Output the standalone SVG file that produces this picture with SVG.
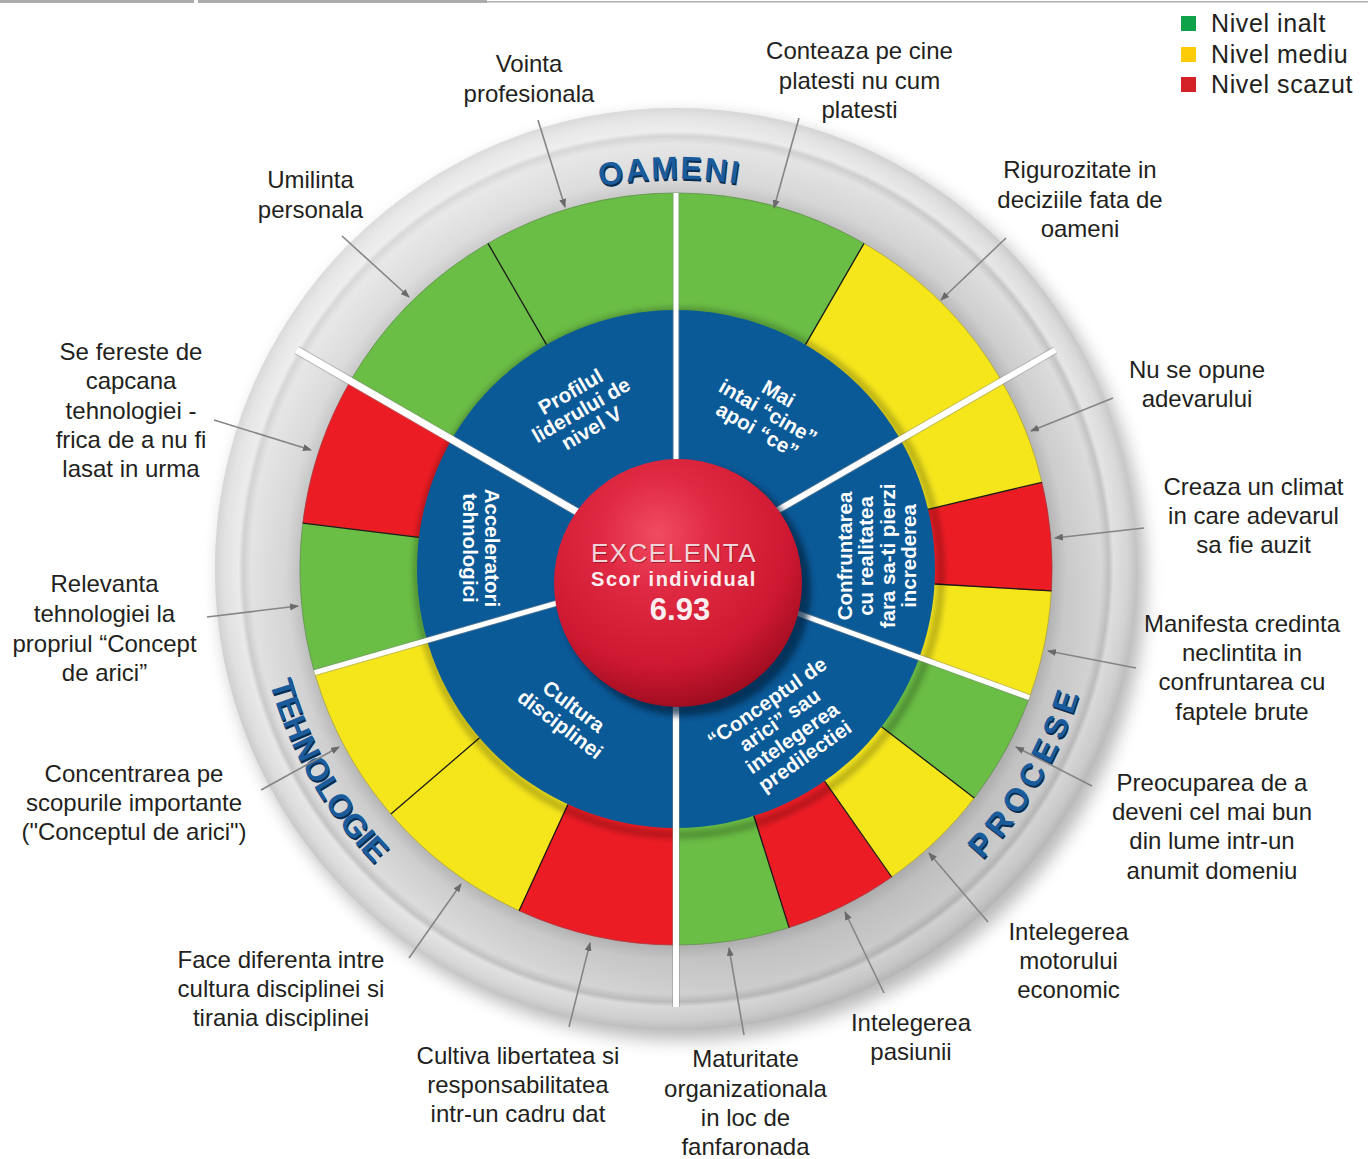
<svg xmlns="http://www.w3.org/2000/svg" width="1368" height="1159" viewBox="0 0 1368 1159">
<defs>
<style>
.lbl{font-family:"Liberation Sans",Arial,sans-serif;font-size:24px;fill:#231f20;text-anchor:middle}
.sec{font-family:"Liberation Sans",Arial,sans-serif;font-size:20.5px;font-weight:bold;fill:#ffffff;text-anchor:middle}
.cat{font-family:"Liberation Sans",Arial,sans-serif;font-size:32px;font-weight:bold;text-anchor:middle}
.leg{font-family:"Liberation Sans",Arial,sans-serif;font-size:25px;letter-spacing:0.6px;fill:#231f20}
.arrow{stroke:#858585;stroke-width:1.6;fill:none;marker-end:url(#ah)}
.div{stroke:#1a1a1a;stroke-width:1.3}
.wl{stroke:#ffffff;stroke-linecap:butt}
.wls{stroke:#8a8a8a;stroke-opacity:.45;stroke-linecap:butt}
.g{fill:#6abd45;stroke:#6abd45;stroke-width:.6}
.y{fill:#f5e61c;stroke:#f5e61c;stroke-width:.6}
.r{fill:#ec1c24;stroke:#ec1c24;stroke-width:.6}
</style>
<marker id="ah" markerUnits="userSpaceOnUse" markerWidth="9" markerHeight="7" refX="8" refY="3.5" orient="auto"><path d="M0,0 L9,3.5 L0,7 Z" fill="#6a6a6a"/></marker>
<filter id="blur8" x="-20%" y="-20%" width="140%" height="140%"><feGaussianBlur stdDeviation="9"/></filter>
<filter id="blur3" x="-20%" y="-20%" width="140%" height="140%"><feGaussianBlur stdDeviation="3"/></filter>
<radialGradient id="band" gradientUnits="userSpaceOnUse" cx="676" cy="569" r="462">
<stop offset="0.80" stop-color="#b0b0b0"/>
<stop offset="0.814" stop-color="#b5b5b5"/>
<stop offset="0.845" stop-color="#cdcdcd"/>
<stop offset="0.92" stop-color="#dcdcdc"/>
<stop offset="0.937" stop-color="#c4c4c4"/>
<stop offset="0.947" stop-color="#e6e6e6"/>
<stop offset="0.978" stop-color="#dadada"/>
<stop offset="1" stop-color="#c6c6c6"/>
</radialGradient>
<linearGradient id="light" x1="0.15" y1="0" x2="0.85" y2="1">
<stop offset="0" stop-color="#ffffff" stop-opacity="0.45"/>
<stop offset="0.5" stop-color="#ffffff" stop-opacity="0"/>
<stop offset="1" stop-color="#000000" stop-opacity="0.16"/>
</linearGradient>
<radialGradient id="sph" cx="0.42" cy="0.3" r="0.75">
<stop offset="0" stop-color="#f04c62"/>
<stop offset="0.3" stop-color="#e02a43"/>
<stop offset="0.72" stop-color="#cc1830"/>
<stop offset="1" stop-color="#950a1c"/>
</radialGradient>
<path id="arcO" d="M 338.25 374 A 390 390 0 0 1 1013.75 374"/>
<path id="arcT" d="M 260.4 495.7 A 422 422 0 0 0 531.7 965.6"/>
<path id="arcP" d="M 820.3 965.6 A 422 422 0 0 0 1091.6 495.7"/>
</defs>

<rect width="1368" height="1159" fill="#ffffff"/>

<g id="top-border">
<rect x="0" y="0" width="194" height="3" fill="#ababab"/>
<rect x="198" y="0" width="289" height="3" fill="#ababab"/>
<rect x="487" y="1" width="881" height="1.5" fill="#b0b0b0"/>
</g>

<g id="frame">
<circle cx="683" cy="578" r="462" fill="#000" opacity="0.28" filter="url(#blur8)"/>
<circle cx="676" cy="569" r="461" fill="url(#band)"/>
<circle cx="676" cy="569" r="461" fill="url(#light)"/>
</g>

<g id="ring">
<path id="seg-vointa" class="g" d="M676 569 L676 193 A376 376 0 0 0 488 243.4 Z"/>
<path id="seg-umilinta" class="g" d="M676 569 L488 243.4 A376 376 0 0 0 350.4 381 Z"/>
<path id="seg-capcana" class="r" d="M676 569 L350.4 381 A376 376 0 0 0 302.8 523.2 Z"/>
<path id="seg-relevanta" class="g" d="M676 569 L302.8 523.2 A376 376 0 0 0 314.6 672.6 Z"/>
<path id="seg-concentrarea" class="y" d="M676 569 L314.6 672.6 A376 376 0 0 0 390.9 814 Z"/>
<path id="seg-diferenta" class="y" d="M676 569 L390.9 814 A376 376 0 0 0 519.1 910.7 Z"/>
<path id="seg-libertatea" class="r" d="M676 569 L519.1 910.7 A376 376 0 0 0 676 945 Z"/>
<path id="seg-maturitate" class="g" d="M676 569 L676 945 A376 376 0 0 0 789.1 927.6 Z"/>
<path id="seg-pasiunii" class="r" d="M676 569 L789.1 927.6 A376 376 0 0 0 891.7 877 Z"/>
<path id="seg-motorului" class="y" d="M676 569 L891.7 877 A376 376 0 0 0 974.3 797.9 Z"/>
<path id="seg-preocuparea" class="g" d="M676 569 L974.3 797.9 A376 376 0 0 0 1029.3 697.6 Z"/>
<path id="seg-manifesta" class="y" d="M676 569 L1029.3 697.6 A376 376 0 0 0 1051.4 590.8 Z"/>
<path id="seg-climat" class="r" d="M676 569 L1051.4 590.8 A376 376 0 0 0 1041.9 482.3 Z"/>
<path id="seg-adevarului" class="y" d="M676 569 L1041.9 482.3 A376 376 0 0 0 1001.6 381 Z"/>
<path id="seg-rigurozitate" class="y" d="M676 569 L1001.6 381 A376 376 0 0 0 864 243.4 Z"/>
<path id="seg-conteaza" class="g" d="M676 569 L864 243.4 A376 376 0 0 0 676 193 Z"/>
<circle cx="676" cy="569" r="376" fill="none" stroke="#555" stroke-opacity="0.35" stroke-width="1"/>
</g>

<g id="dividers">
<line class="div" x1="546.5" y1="344.7" x2="488" y2="243.4"/>
<line class="div" x1="418.9" y1="537.4" x2="302.8" y2="523.2"/>
<line class="div" x1="479.6" y1="737.8" x2="390.9" y2="814"/>
<line class="div" x1="567.9" y1="804.4" x2="519.1" y2="910.7"/>
<line class="div" x1="753.9" y1="816" x2="789.1" y2="927.6"/>
<line class="div" x1="824.6" y1="781.2" x2="891.7" y2="877"/>
<line class="div" x1="881.5" y1="726.7" x2="974.3" y2="797.9"/>
<line class="div" x1="934.6" y1="584" x2="1051.4" y2="590.8"/>
<line class="div" x1="928" y1="509.3" x2="1041.9" y2="482.3"/>
<line class="div" x1="805.5" y1="344.7" x2="864" y2="243.4"/>
</g>

<g id="blue-disk">
<circle cx="679" cy="573" r="262" fill="none" stroke="#000" stroke-opacity="0.3" stroke-width="6" filter="url(#blur3)"/>
<circle cx="676" cy="569" r="259" fill="#0b5a98"/>
</g>

<g id="white-lines">
<line class="wls" x1="676" y1="569" x2="676" y2="193" stroke-width="7"/>
<line class="wls" x1="676" y1="569" x2="296.7" y2="350" stroke-width="9"/>
<line class="wls" x1="676" y1="569" x2="314.6" y2="672.6" stroke-width="7"/>
<line class="wls" x1="676" y1="569" x2="676" y2="1007" stroke-width="8"/>
<line class="wls" x1="676" y1="569" x2="1029.3" y2="697.6" stroke-width="7"/>
<line class="wls" x1="676" y1="569" x2="1055.3" y2="350" stroke-width="8"/>
<line class="wl" x1="676" y1="569" x2="676" y2="193" stroke-width="5"/>
<line class="wl" x1="676" y1="569" x2="296.7" y2="350" stroke-width="7"/>
<line class="wl" x1="676" y1="569" x2="314.6" y2="672.6" stroke-width="5"/>
<line class="wl" x1="676" y1="569" x2="676" y2="1007" stroke-width="6"/>
<line class="wl" x1="676" y1="569" x2="1029.3" y2="697.6" stroke-width="5"/>
<line class="wl" x1="676" y1="569" x2="1055.3" y2="350" stroke-width="6"/>
</g>

<g id="sector-profilul">
<text class="sec" transform="translate(581,410) rotate(-30)"><tspan x="0" y="-14">Profilul</tspan><tspan x="0" y="7">liderului de</tspan><tspan x="0" y="28">nivel V</tspan></text>
</g>
<g id="sector-cine">
<text class="sec" transform="translate(768,412) rotate(30)"><tspan x="0" y="-14">Mai</tspan><tspan x="0" y="7">intai “cine”</tspan><tspan x="0" y="28">apoi “ce”</tspan></text>
</g>
<g id="sector-confruntarea">
<text class="sec" transform="translate(877,556) rotate(-90)"><tspan x="0" y="-25.25">Confruntarea</tspan><tspan x="0" y="-3.75">cu realitatea</tspan><tspan x="0" y="17.75">fara sa-ti pierzi</tspan><tspan x="0" y="39.25">increderea</tspan></text>
</g>
<g id="sector-arici">
<text class="sec" transform="translate(786,729) rotate(-35)"><tspan x="0" y="-26">“Conceptul de</tspan><tspan x="0" y="-4">arici” sau</tspan><tspan x="0" y="18">intelegerea</tspan><tspan x="0" y="40">predilectiei</tspan></text>
</g>
<g id="sector-cultura">
<text class="sec" transform="translate(567,715.5) rotate(37)"><tspan x="0" y="-4.25">Cultura</tspan><tspan x="0" y="18.25">disciplinei</tspan></text>
</g>
<g id="sector-acceleratori">
<text class="sec" transform="translate(481,548) rotate(90)"><tspan x="0" y="-4">Acceleratori</tspan><tspan x="0" y="18">tehnologici</tspan></text>
</g>

<g id="center">
<circle cx="685" cy="590" r="126" fill="#03223f" opacity="0.7" filter="url(#blur3)"/>
<circle cx="678" cy="583" r="124" fill="url(#sph)"/>
<text x="675" y="563" font-family="'Liberation Sans',Arial,sans-serif" font-size="26" letter-spacing="1.5" text-anchor="middle" fill="#7d0c1c" opacity="0.6">EXCELENTA</text>
<text x="674" y="562" font-family="'Liberation Sans',Arial,sans-serif" font-size="26" letter-spacing="1.5" text-anchor="middle" fill="#f1d4d9">EXCELENTA</text>
<text x="674" y="586" font-family="'Liberation Sans',Arial,sans-serif" font-size="20" font-weight="bold" letter-spacing="1.5" text-anchor="middle" fill="#fbeef0">Scor individual</text>
<text x="680" y="620" font-family="'Liberation Sans',Arial,sans-serif" font-size="31" font-weight="bold" text-anchor="middle" fill="#fbeef0">6.93</text>
</g>

<g id="categories">
<g id="cat-oameni">
<text class="cat" fill="#082c50" letter-spacing="2" transform="translate(1,2)"><textPath href="#arcO" startOffset="49.2%">OAMENI</textPath></text>
<text class="cat" fill="#1a5b9b" letter-spacing="2"><textPath href="#arcO" startOffset="49.2%">OAMENI</textPath></text>
</g>
<g id="cat-tehnologie">
<text class="cat" fill="#082c50" transform="translate(1,2)"><textPath href="#arcT" startOffset="50%">TEHNOLOGIE</textPath></text>
<text class="cat" fill="#1a5b9b"><textPath href="#arcT" startOffset="50%">TEHNOLOGIE</textPath></text>
</g>
<g id="cat-procese">
<text class="cat" fill="#082c50" letter-spacing="6" transform="translate(1,2)"><textPath href="#arcP" startOffset="50%">PROCESE</textPath></text>
<text class="cat" fill="#1a5b9b" letter-spacing="6"><textPath href="#arcP" startOffset="50%">PROCESE</textPath></text>
</g>
</g>

<g id="connectors">
<line class="arrow" x1="538" y1="120" x2="565" y2="207"/>
<line class="arrow" x1="799" y1="118" x2="774" y2="208"/>
<line class="arrow" x1="342" y1="236" x2="409" y2="297"/>
<line class="arrow" x1="1006" y1="238" x2="941" y2="300"/>
<line class="arrow" x1="214" y1="420" x2="311" y2="450"/>
<line class="arrow" x1="1113" y1="398" x2="1031" y2="431"/>
<line class="arrow" x1="1144" y1="528" x2="1055" y2="538"/>
<line class="arrow" x1="207" y1="617" x2="298" y2="606"/>
<line class="arrow" x1="1136" y1="668" x2="1048" y2="651"/>
<line class="arrow" x1="1092" y1="786" x2="1016" y2="747"/>
<line class="arrow" x1="988" y1="922" x2="929" y2="853"/>
<line class="arrow" x1="884" y1="993" x2="845" y2="912"/>
<line class="arrow" x1="744" y1="1035" x2="729" y2="948"/>
<line class="arrow" x1="569" y1="1027" x2="590" y2="943"/>
<line class="arrow" x1="409" y1="958" x2="461" y2="884"/>
<line class="arrow" x1="261" y1="790" x2="339" y2="747"/>
</g>

<g id="label-vointa"><text class="lbl"><tspan x="529" y="72">Vointa</tspan><tspan x="529" y="102">profesionala</tspan></text></g>
<g id="label-conteaza"><text class="lbl"><tspan x="859.5" y="59">Conteaza pe cine</tspan><tspan x="859.5" y="89">platesti nu cum</tspan><tspan x="859.5" y="118">platesti</tspan></text></g>
<g id="label-umilinta"><text class="lbl"><tspan x="310.5" y="188">Umilinta</tspan><tspan x="310.5" y="218">personala</tspan></text></g>
<g id="label-rigurozitate"><text class="lbl"><tspan x="1080" y="178">Rigurozitate in</tspan><tspan x="1080" y="208">deciziile fata de</tspan><tspan x="1080" y="237">oameni</tspan></text></g>
<g id="label-capcana"><text class="lbl"><tspan x="131" y="360">Se fereste de</tspan><tspan x="131" y="389">capcana</tspan><tspan x="131" y="419">tehnologiei -</tspan><tspan x="131" y="448">frica de a nu fi</tspan><tspan x="131" y="477">lasat in urma</tspan></text></g>
<g id="label-adevarului"><text class="lbl"><tspan x="1197" y="378">Nu se opune</tspan><tspan x="1197" y="407">adevarului</tspan></text></g>
<g id="label-climat"><text class="lbl"><tspan x="1253.5" y="495">Creaza un climat</tspan><tspan x="1253.5" y="524">in care adevarul</tspan><tspan x="1253.5" y="553">sa fie auzit</tspan></text></g>
<g id="label-relevanta"><text class="lbl"><tspan x="104.5" y="592">Relevanta</tspan><tspan x="104.5" y="622">tehnologiei la</tspan><tspan x="104.5" y="652">propriul “Concept</tspan><tspan x="104.5" y="681">de arici”</tspan></text></g>
<g id="label-manifesta"><text class="lbl"><tspan x="1242" y="632">Manifesta credinta</tspan><tspan x="1242" y="661">neclintita in</tspan><tspan x="1242" y="690">confruntarea cu</tspan><tspan x="1242" y="720">faptele brute</tspan></text></g>
<g id="label-concentrarea"><text class="lbl"><tspan x="134" y="782">Concentrarea pe</tspan><tspan x="134" y="811">scopurile importante</tspan><tspan x="134" y="840">("Conceptul de arici")</tspan></text></g>
<g id="label-preocuparea"><text class="lbl"><tspan x="1212" y="791">Preocuparea de a</tspan><tspan x="1212" y="820">deveni cel mai bun</tspan><tspan x="1212" y="849">din lume intr-un</tspan><tspan x="1212" y="879">anumit domeniu</tspan></text></g>
<g id="label-motorului"><text class="lbl"><tspan x="1068.5" y="940">Intelegerea</tspan><tspan x="1068.5" y="969">motorului</tspan><tspan x="1068.5" y="998">economic</tspan></text></g>
<g id="label-diferenta"><text class="lbl"><tspan x="281" y="968">Face diferenta intre</tspan><tspan x="281" y="997">cultura disciplinei si</tspan><tspan x="281" y="1026">tirania disciplinei</tspan></text></g>
<g id="label-pasiunii"><text class="lbl"><tspan x="911" y="1031">Intelegerea</tspan><tspan x="911" y="1060">pasiunii</tspan></text></g>
<g id="label-libertatea"><text class="lbl"><tspan x="518" y="1064">Cultiva libertatea si</tspan><tspan x="518" y="1093">responsabilitatea</tspan><tspan x="518" y="1122">intr-un cadru dat</tspan></text></g>
<g id="label-maturitate"><text class="lbl"><tspan x="745.5" y="1067">Maturitate</tspan><tspan x="745.5" y="1097">organizationala</tspan><tspan x="745.5" y="1126">in loc de</tspan><tspan x="745.5" y="1155">fanfaronada</tspan></text></g>

<g id="legend">
<rect x="1181" y="16" width="15" height="15" fill="#10a24a"/>
<rect x="1181" y="47" width="15" height="15" fill="#fccb05"/>
<rect x="1181" y="77" width="15" height="15" fill="#d42027"/>
<text class="leg" x="1211" y="32">Nivel inalt</text>
<text class="leg" x="1211" y="63">Nivel mediu</text>
<text class="leg" x="1211" y="93">Nivel scazut</text>
</g>
</svg>
